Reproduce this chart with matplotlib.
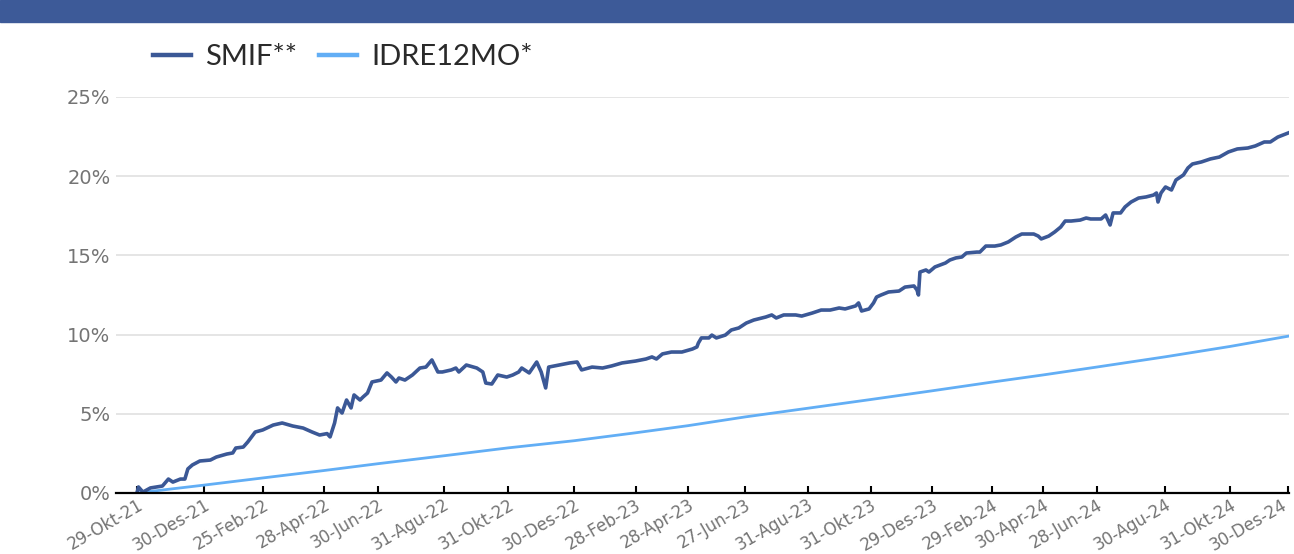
import matplotlib.pyplot as plt
import matplotlib.patches as patches
from matplotlib.ticker import FuncFormatter
from matplotlib.transforms import ScaledTranslation

# x axis: trading-day index from 29-Okt-21
tick_days = [0, 45, 84, 125, 161, 205, 248, 292, 333, 368, 406, 448, 490,
             531, 571, 605, 641, 687, 730, 769]
tick_labels = ['29-Okt-21', '30-Des-21', '25-Feb-22', '28-Apr-22', '30-Jun-22',
               '31-Agu-22', '31-Okt-22', '30-Des-22', '28-Feb-23', '28-Apr-23',
               '27-Jun-23', '31-Agu-23', '31-Okt-23', '29-Des-23', '29-Feb-24',
               '30-Apr-24', '28-Jun-24', '30-Agu-24', '31-Okt-24', '30-Des-24']

# SMIF** cumulative return (%)
smif_days = [0, 1, 4, 9, 13, 17, 21, 24, 29, 32, 34, 37, 42, 49, 53, 60, 64, 66,
             71, 74, 79, 84, 91, 97, 104, 111, 117, 122, 127, 129, 132, 134, 137,
             140, 143, 145, 149, 151, 154, 157, 163, 167, 170, 173, 175, 179, 184,
             189, 193, 197, 201, 204, 210, 213, 215, 220, 227, 231, 233, 237, 241,
             247, 251, 255, 257, 262, 267, 270, 273, 275, 282, 289, 294, 297, 304,
             311, 317, 324, 333, 340, 344, 347, 351, 357, 364, 371, 374, 375, 377,
             382, 384, 387, 393, 397, 402, 407, 412, 420, 424, 427, 432, 440, 444,
             451, 457, 463, 469, 473, 480, 482, 484, 489, 492, 494, 497, 502, 509,
             513, 519, 521, 522, 523, 527, 529, 533, 540, 543, 547, 551, 554, 561,
             563, 567, 573, 577, 582, 587, 591, 599, 602, 604, 609, 613, 617, 620,
             624, 630, 634, 637, 644, 647, 650, 652, 657, 660, 664, 669, 674, 679,
             681, 682, 684, 687, 691, 694, 699, 702, 705, 711, 717, 723, 729, 735,
             742, 747, 753, 757, 762, 769]
smif_vals = [0.0, 0.38, 0.06, 0.32, 0.38, 0.44, 0.88, 0.69, 0.88, 0.88, 1.52, 1.77,
             2.02, 2.08, 2.27, 2.46, 2.53, 2.84, 2.90, 3.22, 3.85, 3.98, 4.29, 4.42,
             4.23, 4.10, 3.85, 3.66, 3.75, 3.54, 4.42, 5.37, 5.05, 5.87, 5.37, 6.19,
             5.87, 6.06, 6.31, 7.01, 7.13, 7.58, 7.32, 7.01, 7.26, 7.13, 7.45, 7.89,
             7.95, 8.40, 7.64, 7.64, 7.77, 7.89, 7.64, 8.08, 7.89, 7.64, 6.94, 6.88,
             7.45, 7.32, 7.45, 7.64, 7.89, 7.58, 8.27, 7.64, 6.63, 7.95, 8.08, 8.21,
             8.27, 7.77, 7.95, 7.89, 8.02, 8.21, 8.33, 8.46, 8.59, 8.46, 8.78, 8.90,
             8.90, 9.09, 9.22, 9.47, 9.79, 9.79, 9.97, 9.79, 9.97, 10.29, 10.42,
             10.73, 10.92, 11.11, 11.24, 11.05, 11.24, 11.24, 11.17, 11.36, 11.55,
             11.55, 11.68, 11.62, 11.81, 12.00, 11.49, 11.62, 12.00, 12.37, 12.50,
             12.69, 12.75, 13.00, 13.07, 12.82, 12.50, 13.95, 14.08, 13.95, 14.27,
             14.52, 14.71, 14.84, 14.90, 15.15, 15.21, 15.21, 15.59, 15.59, 15.66,
             15.85, 16.16, 16.35, 16.35, 16.22, 16.04, 16.22, 16.48, 16.79, 17.17,
             17.17, 17.23, 17.36, 17.30, 17.30, 17.55, 16.92, 17.68, 17.68, 18.06,
             18.37, 18.62, 18.69, 18.81, 18.94, 18.37, 18.94, 19.32, 19.13, 19.76,
             20.08, 20.52, 20.77, 20.90, 21.09, 21.21, 21.53, 21.72, 21.78, 21.91,
             22.16, 22.16, 22.47, 22.73]

# IDRE12MO* benchmark (%)
idre_days = tick_days
idre_vals = [0.0, 0.5, 0.95, 1.42, 1.85, 2.35, 2.85, 3.3, 3.8, 4.25, 4.8, 5.35,
             5.9, 6.45, 7.0, 7.45, 7.95, 8.6, 9.25, 9.9]

y_ticks = [0, 5, 10, 15, 20, 25]

c_smif = '#3b5896'
c_idre = '#62aef5'
c_text = '#747474'

fig = plt.figure(figsize=(12.94, 5.54), dpi=100)

# blue banner at the top
fig.patches.append(patches.Rectangle((0, 1 - 22 / 554), 1, 22 / 554,
                                     transform=fig.transFigure,
                                     color='#3d5a98', zorder=0))

ax = fig.add_axes([116 / 1294, 1 - 493 / 554, (1289 - 116) / 1294, (493 - 97) / 554])

ax.plot(smif_days, smif_vals, color=c_smif, lw=2.6, label='SMIF**', zorder=3,
        solid_joinstyle='round')
ax.plot(idre_days, idre_vals, color=c_idre, lw=2.0, label='IDRE12MO*', zorder=2)

ax.set_xlim(-14, 769.5)
ax.set_ylim(0, 25)

ax.set_yticks(y_ticks)
ax.yaxis.set_major_formatter(FuncFormatter(lambda v, p: '%d%%' % v))
ax.set_xticks(tick_days)
ax.set_xticklabels(tick_labels, rotation=30, ha='right', va='top',
                   rotation_mode='anchor')

ax.grid(axis='y', color='#e3e3e3', lw=1.3)
ax.set_axisbelow(True)
for s in ['top', 'right', 'left']:
    ax.spines[s].set_visible(False)
ax.spines['bottom'].set_color('black')
ax.spines['bottom'].set_linewidth(1.6)
ax.spines['bottom'].set_zorder(4)

ax.tick_params(axis='y', length=0, pad=4, labelsize=14, labelcolor=c_text)
ax.tick_params(axis='x', direction='in', length=5, width=1.5, color='black',
               pad=2, labelsize=12, labelcolor=c_text)

# nudge the last date a few pixels left so it stays inside the picture
last = ax.get_xticklabels()[-1]
last.set_transform(last.get_transform() +
                   ScaledTranslation(-5 / 72, 0, fig.dpi_scale_trans))

leg = fig.legend(loc='center left', bbox_to_anchor=(153 / 1294, 1 - 57 / 554),
                 ncol=2, frameon=False, handlelength=1.3, handletextpad=0.5,
                 columnspacing=0.75, borderaxespad=0, borderpad=0,
                 prop={'family': ['Lato', 'DejaVu Sans'], 'size': 21})
for h in leg.get_lines():
    h.set_linewidth(3.2)
for t in leg.get_texts():
    t.set_color('#2a2a2a')

fig.savefig('out.png', dpi=100)
